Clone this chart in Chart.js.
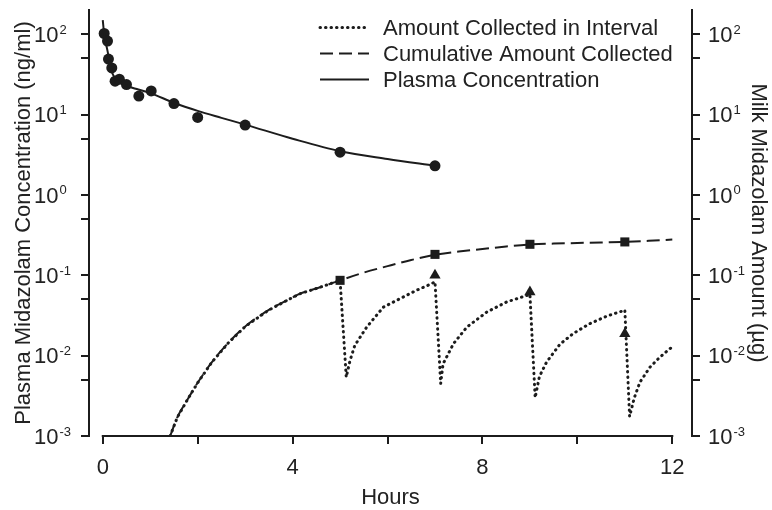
<!DOCTYPE html>
<html><head><meta charset="utf-8">
<script src="https://cdn.jsdelivr.net/npm/chart.js@4/dist/chart.umd.min.js"></script>
<style>html,body{margin:0;padding:0;background:#fff}#wrap{width:772px;height:510px}</style>
</head><body><div id="wrap"><canvas id="c" width="772" height="510"></canvas></div>
<script>
// ---- data (hours, ng/ml or µg) ----
const plasmaObsT = [0.03, 0.1, 0.12, 0.19, 0.26, 0.35, 0.5, 0.76, 1.02, 1.5, 2, 3, 5, 7];
const plasmaObsC = [102, 82, 49, 38, 26, 27.5, 23.6, 17, 19.7, 13.7, 9.2, 7.4, 3.4, 2.3];
const plasmaFitT = [0, 0.03, 0.06, 0.1, 0.15, 0.2, 0.25, 0.3, 0.4, 0.5, 0.75, 1, 1.5, 2, 2.5, 3, 4, 5, 6, 7];
const plasmaFitC = [150, 100, 80, 62, 44, 33, 29, 27, 24.5, 22.8, 20.5, 18.5, 14, 11.1, 9.1, 7.5, 5.0, 3.5, 2.8, 2.3];
const cumT = [1.42, 1.57, 1.78, 2.0, 2.3, 2.65, 3.0, 3.5, 4.0, 4.16, 4.58, 5, 5.5, 6, 6.5, 7, 7.5, 8, 8.5, 9, 9.5, 10, 10.5, 11, 11.5, 12];
const cumA = [0.001, 0.0017, 0.0028, 0.0046, 0.0083, 0.0145, 0.023, 0.037, 0.053, 0.059, 0.071, 0.0865, 0.108, 0.13, 0.155, 0.18, 0.197, 0.212, 0.228, 0.242, 0.248, 0.252, 0.256, 0.26, 0.268, 0.278];
const cumObsT = [5, 7, 9, 11];
const cumObsA = [0.0865, 0.182, 0.243, 0.26];
const intT = [1.42, 1.57, 1.78, 2.0, 2.3, 2.65, 3.0, 3.5, 4.0, 4.16, 4.58, 5,
  5.13, 5.21, 5.31, 5.56, 5.91, 6.26, 6.61, 6.93, 7.0,
  7.12, 7.17, 7.39, 7.67, 8.09, 8.51, 8.93, 9.0,
  9.11, 9.2, 9.35, 9.63, 9.91, 10.26, 10.62, 10.93, 11.0,
  11.1, 11.2, 11.32, 11.53, 11.74, 11.95, 12.0];
const intA = [0.001, 0.0017, 0.0028, 0.0046, 0.0083, 0.0145, 0.023, 0.037, 0.053, 0.059, 0.071, 0.0865,
  0.0054, 0.0087, 0.0134, 0.0226, 0.040, 0.051, 0.065, 0.0786, 0.083,
  0.0045, 0.0079, 0.0141, 0.0226, 0.0348, 0.0465, 0.056, 0.058,
  0.003, 0.0055, 0.0083, 0.0138, 0.0188, 0.025, 0.031, 0.0356, 0.037,
  0.00175, 0.003, 0.0047, 0.0072, 0.0096, 0.0122, 0.0128];
const intObsT = [7, 9, 11];
const intObsA = [0.1, 0.062, 0.0187];
const xTicks = [0, 2, 4, 6, 8, 10, 12];
const xLabeled = [0, 4, 8, 12];
const yTickVals = [0.001, 0.005, 0.01, 0.05, 0.1, 0.5, 1, 5, 10, 50, 100];
const yLabelExps = [-3, -2, -1, 0, 1, 2];
const seriesNames = ['Amount Collected in Interval', 'Cumulative Amount Collected', 'Plasma Concentration'];
const leftTitle = 'Plasma Midazolam Concentration (ng/ml)';
const rightTitle = 'Milk Midazolam Amount (µg)';
const xTitle = 'Hours';

const INK = '#1c1c1c';
const FONT = '"Liberation Sans", Arial, sans-serif';
Chart.defaults.font.family = FONT;
Chart.defaults.color = '#222';

const pts = (xs, ys) => xs.map((x, i) => ({x, y: ys[i]}));

const datasets = [
  {label: seriesNames[0], data: pts(intT, intA), yAxisID: 'y2', showLine: true, pointRadius: 0,
   borderColor: INK, borderWidth: 3, borderDash: [0.5, 5], borderCapStyle: 'round', tension: 0, legend: true},
  {label: seriesNames[1], data: pts(cumT, cumA), yAxisID: 'y2', showLine: true, pointRadius: 0,
   borderColor: INK, borderWidth: 2, borderDash: [13, 6], cubicInterpolationMode: 'monotone', legend: true},
  {label: seriesNames[2], data: pts(plasmaFitT, plasmaFitC), yAxisID: 'y', showLine: true, pointRadius: 0,
   borderColor: INK, borderWidth: 2, borderDash: [], cubicInterpolationMode: 'monotone', legend: true},
  {label: 'Plasma observed', data: pts(plasmaObsT, plasmaObsC), yAxisID: 'y', showLine: false,
   pointStyle: 'circle', pointRadius: 5.5, backgroundColor: INK, borderColor: INK, borderWidth: 0},
  {label: 'Cumulative observed', data: pts(cumObsT, cumObsA), yAxisID: 'y2', showLine: false,
   pointStyle: 'rect', pointRadius: 6.4, backgroundColor: INK, borderColor: INK, borderWidth: 0},
  {label: 'Interval observed', data: pts(intObsT, intObsA), yAxisID: 'y2', showLine: false,
   pointStyle: 'triangle', pointRadius: 6.5, backgroundColor: INK, borderColor: INK, borderWidth: 0}
];

const customPlugin = {
  id: 'custom',
  afterDraw(chart) {
    const ctx = chart.ctx, xs = chart.scales.x, ca = chart.chartArea;
    ctx.save();
    // x axis line spanning 0..12 only
    ctx.strokeStyle = INK; ctx.lineWidth = 2; ctx.setLineDash([]);
    ctx.beginPath();
    ctx.moveTo(xs.getPixelForValue(xTicks[0]) - 1, ca.bottom);
    ctx.lineTo(xs.getPixelForValue(xTicks[xTicks.length - 1]) + 1, ca.bottom);
    ctx.stroke();
    // y tick labels 10^n
    ctx.fillStyle = '#222';
    ctx.textAlign = 'left'; ctx.textBaseline = 'alphabetic';
    [['y', 34], ['y2', 708]].forEach(([id, x0]) => {
      const sc = chart.scales[id];
      yLabelExps.forEach(e => {
        const y = sc.getPixelForValue(Math.pow(10, e));
        ctx.font = '22px ' + FONT;
        ctx.fillText('10', x0, y + 7.8);
        ctx.font = '13px ' + FONT;
        ctx.fillText(String(e), x0 + 25.5, y - 0.5);
      });
    });
    // legend
    const lx0 = 320, lx1 = 369, tx = 383, base = [35, 61, 87];
    chart.data.datasets.filter(d => d.legend).forEach((d, i) => {
      const yy = base[i] - 7.5;
      ctx.strokeStyle = d.borderColor; ctx.lineWidth = d.borderWidth;
      ctx.setLineDash(d.borderDash || []); ctx.lineCap = d.borderCapStyle || 'butt';
      ctx.beginPath(); ctx.moveTo(lx0, yy); ctx.lineTo(lx1, yy); ctx.stroke();
      ctx.setLineDash([]);
      ctx.font = '22px ' + FONT; ctx.fillStyle = '#222';
      ctx.fillText(d.label, tx, base[i]);
    });
    ctx.restore();
  }
};

const yCommon = {
  type: 'logarithmic', min: 0.001, max: 200,
  afterBuildTicks: s => { s.ticks = yTickVals.map(v => ({value: v})); },
  ticks: {display: false},
  grid: {drawOnChartArea: false, drawTicks: true, tickLength: 8, color: INK, lineWidth: 2},
  border: {display: true, color: INK, width: 2}
};

new Chart(document.getElementById('c'), {
  type: 'scatter',
  data: {datasets},
  options: {
    responsive: false, animation: false, devicePixelRatio: 1,
    layout: {padding: {top: 10, left: 0, right: 0, bottom: 0}},
    plugins: {legend: {display: false}, tooltip: {enabled: false}},
    scales: {
      x: {
        type: 'linear', min: -0.29, max: 12.415,
        afterBuildTicks: s => { s.ticks = xTicks.map(v => ({value: v})); },
        afterFit: s => { s.height = 74; },
        ticks: {autoSkip: false, maxRotation: 0, padding: 11, font: {size: 22}, color: '#222',
          callback: v => xLabeled.includes(v) ? String(v) : ''},
        grid: {drawOnChartArea: false, drawTicks: true, tickLength: 8, color: INK, lineWidth: 2},
        border: {display: false},
        title: {display: true, text: xTitle, font: {size: 22}, color: '#222', padding: {top: 0, bottom: -1}}
      },
      y: Object.assign({}, yCommon, {
        position: 'left',
        afterFit: s => { s.width = 89; },
        title: {display: true, text: leftTitle, font: {size: 22}, color: '#222', padding: {top: 11, bottom: 0}}
      }),
      y2: Object.assign({}, yCommon, {
        position: 'right',
        afterFit: s => { s.width = 80; },
        title: {display: true, text: rightTitle, font: {size: 22}, color: '#222', padding: {top: 1, bottom: 0}}
      })
    }
  },
  plugins: [customPlugin]
});
</script></body></html>
